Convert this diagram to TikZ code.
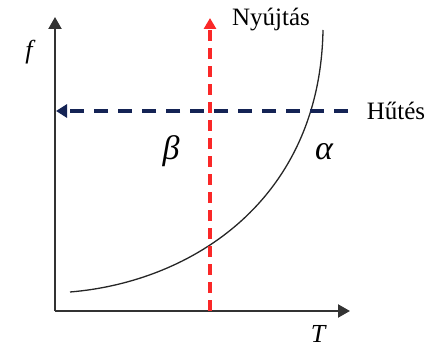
\documentclass[tikz,border=0pt]{standalone}
\usepackage{fontspec}
\setmainfont{Liberation Serif}
\usetikzlibrary{arrows.meta}
\definecolor{redd}{RGB}{250,40,40}
\definecolor{navy}{RGB}{20,35,85}
\begin{document}
\begin{tikzpicture}[x=1pt,y=-1pt,
  axis/.style={line width=2.2pt,draw=black!80,-{Triangle[length=12pt,width=13pt]}},
  reddash/.style={line width=3.2pt,draw=redd,dash pattern=on 11pt off 7pt,-{Triangle[length=11pt,width=12pt,fill=redd]}},
  bluedash/.style={line width=3.4pt,draw=navy,dash pattern=on 14pt off 10pt,-{Triangle[length=11pt,width=13pt,fill=navy]}},
  lbl/.style={font=\fontsize{25}{25}\selectfont,inner sep=0pt},
  ital/.style={font=\fontsize{26}{26}\selectfont\itshape,inner sep=0pt},
  greek/.style={font=\fontsize{34}{34}\selectfont\itshape,inner sep=0pt}]
\useasboundingbox (0,0) rectangle (430,347);
\coordinate (O) at (55,311);
\coordinate (ytip) at (55,17);
\coordinate (xtip) at (350,311);
\coordinate (rbot) at (210,311);
\coordinate (rtop) at (210,18);
\coordinate (bright) at (348,111);
\coordinate (bleft) at (56,111);
\coordinate (c0) at (70,292);
\coordinate (c1) at (323,30);
\draw[axis] (O) -- (ytip);
\draw[axis] (O) -- (xtip);
\draw[line width=1.3pt,black!85] (c0) .. controls (192,282) and (320,200) .. (c1);
\draw[reddash] (rbot) -- (rtop);
\draw[bluedash] (bright) -- (bleft);
\node[lbl] (ny) at (271,20) {Nyújtás};
\node[lbl] (hu) at (396,111) {Hűtés};
\node[ital] (f) at (29,52) {f};
\node[ital] (T) at (318,334) {T};
\node[greek] (beta) at (171,151) {β};
\node[greek] (alpha) at (324,152) {α};
\end{tikzpicture}
\end{document}
